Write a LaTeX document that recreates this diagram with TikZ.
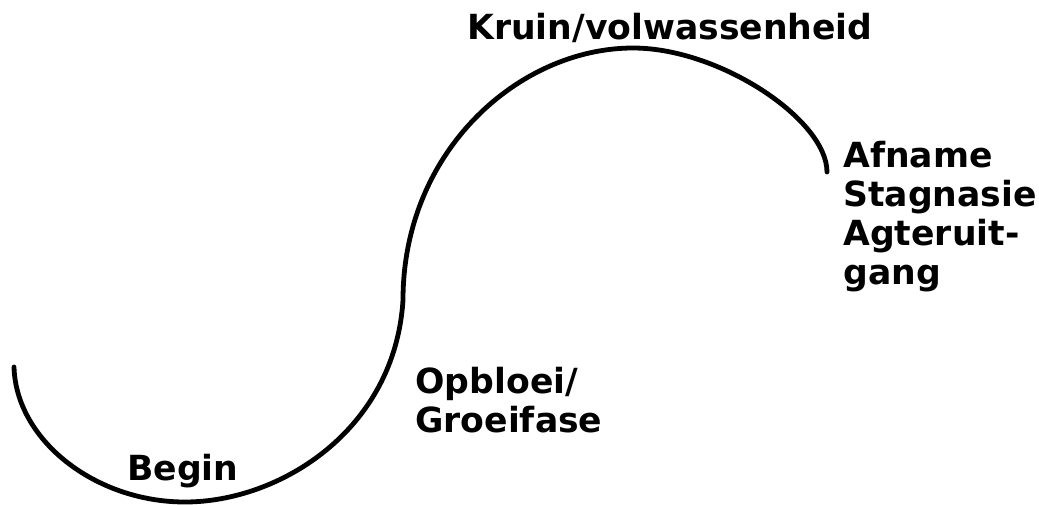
\documentclass[tikz,border=0pt]{standalone}
\usepackage{fontspec}
\setmainfont{DejaVu Sans}
\usetikzlibrary{arrows.meta}

\tikzset{
  phase/.style={font=\bfseries\fontsize{17.3}{19.5}\selectfont, inner sep=0pt,
    anchor=base west, align=left},
  lifecurve/.style={line width=2.4pt, line cap=round, line join=round}
}

\begin{document}
\begin{tikzpicture}[x=0.5pt, y=-0.5pt]
  \useasboundingbox (0,0) rectangle (1039,504);

  \coordinate (start) at (14,367);
  \coordinate (low) at (185,502);
  \coordinate (turn) at (403,300);
  \coordinate (top) at (633,48);
  \coordinate (end) at (827,172);

  % the S-shaped life cycle
  \draw[lifecurve] (start) .. controls (16,440) and (95,502) .. (low)
    .. controls (280,502) and (395,430) .. (turn)
    .. controls (403,150) and (520,48) .. (top)
    .. controls (720,48) and (827,120) .. (end);

  % base anchor of a multi-line node sits on its last line
  \node[phase] (begin) at (127,480) {Begin};
  \node[phase] (opbloei) at (415,432) {Opbloei/\\Groeifase};
  \node[phase] (kruin) at (467,39) {Kruin/volwassenheid};
  \node[phase] (afname) at (843,284) {Afname\\Stagnasie\\Agteruit-\\gang};
\end{tikzpicture}
\end{document}
